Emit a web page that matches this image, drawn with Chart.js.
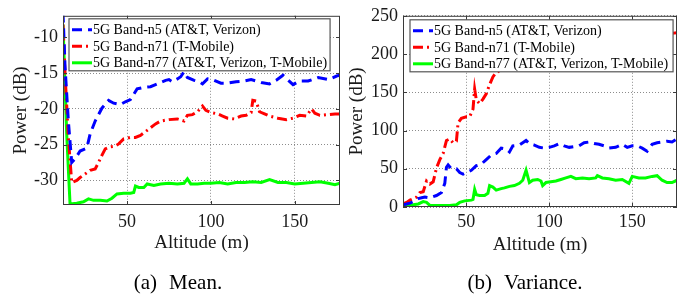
<!DOCTYPE html>
<html>
<head>
<meta charset="utf-8">
<script src="https://cdn.jsdelivr.net/npm/chart.js@4.4.0/dist/chart.umd.min.js"></script>
<style>
    body { margin: 0; background: #fff; width: 691px; height: 296px; overflow: hidden; position: relative; font-family: "Liberation Serif", serif; }
    .panel { position: absolute; top: 0; }
    .caption { position: absolute; top: 272px; font-size: 21px; line-height: 21px; white-space: nowrap; transform: translateX(-50%); color: #000; }
    .caption span { margin-left: 12px; }
</style>
</head>
<body>
<div class="panel" style="left:0"><canvas id="meanChart" width="345" height="296"></canvas></div>
<div class="panel" style="left:345px"><canvas id="varChart" width="346" height="296"></canvas></div>
<div class="caption" style="left:178px">(a)<span>Mean.</span></div>
<div class="caption" style="left:525px">(b)<span>Variance.</span></div>
<script>
// -------------------- DATA --------------------
const bandLabels = [
    "5G Band-n5 (AT&T, Verizon)",
    "5G Band-n71 (T-Mobile)",
    "5G Band-n77 (AT&T, Verizon, T-Mobile)"
];
const altitudeTicks = [50, 100, 150];
const meanTicks = [-30, -25, -20, -15, -10];
const varTicks = [0, 50, 100, 150, 200, 250];

// (a) mean power
const meanN5Alt = [11.8, 13, 15, 17, 19, 22, 26, 28, 31, 35, 39, 42, 46, 49, 52, 56, 60, 64, 67, 70, 73, 75, 77, 80, 82, 84, 86, 90, 93, 95, 98, 102, 106, 110, 115, 120, 124, 130, 135, 139, 143, 149, 153, 158, 164, 170, 175, 177];
const meanN5 = [-6.5, -14, -21.7, -27.5, -27, -25.9, -25.5, -23.5, -21.7, -19.9, -18.8, -19.2, -19.4, -19.0, -18.7, -17.2, -17.0, -16.9, -16.6, -16.3, -16.0, -15.9, -16.2, -15.8, -15.5, -14.8, -15.6, -16.0, -16.2, -16.5, -15.8, -16.0, -16.4, -16.4, -16.2, -16.1, -15.9, -16.3, -16.5, -16.0, -15.3, -16.6, -16.1, -16.1, -15.6, -15.9, -15.4, -15.3];

const meanN71Alt = [11.8, 13, 15, 17, 20, 22, 25, 28, 31, 33, 35, 37, 40, 43, 45, 48, 52, 55, 58, 62, 67, 70, 75, 80, 84, 86, 89, 92, 95, 97, 100, 104, 107, 110, 114, 118, 121, 124, 125, 127, 129, 132, 135, 140, 145, 149, 153, 157, 160, 162, 165, 170, 174, 177];
const meanN71 = [-8.2, -15, -24, -30.3, -30.0, -29.6, -29.1, -28.6, -28.4, -27.5, -26.5, -25.6, -25.3, -25.2, -24.9, -24.2, -24.0, -24.0, -23.7, -23.0, -22.1, -21.7, -21.5, -21.4, -21.7, -20.9, -20.8, -20.4, -19.6, -20.2, -20.5, -20.7, -21.0, -21.3, -21.4, -21.0, -20.9, -20.5, -18.8, -18.9, -20.4, -20.7, -21.0, -21.3, -21.5, -21.3, -20.9, -21.0, -20.0, -20.6, -20.9, -20.8, -20.7, -20.7];

const meanN77Alt = [11.8, 14, 16, 20, 24, 27, 30, 34, 38, 41, 44, 48, 52, 54, 55, 57, 60, 62, 66, 70, 75, 80, 84, 86, 88, 92, 96, 100, 105, 110, 115, 120, 125, 130, 135, 140, 145, 150, 155, 160, 165, 170, 174, 177];
const meanN77 = [-8.2, -23.5, -33.3, -33.2, -33.0, -32.6, -32.8, -32.8, -32.9, -32.5, -31.9, -31.8, -31.8, -31.7, -30.8, -31.0, -31.0, -30.5, -30.7, -30.5, -30.4, -30.5, -30.4, -29.8, -30.5, -30.5, -30.4, -30.4, -30.3, -30.5, -30.3, -30.3, -30.2, -30.3, -29.9, -30.3, -30.3, -30.5, -30.4, -30.3, -30.2, -30.4, -30.6, -30.4];

// (b) variance
const varN5Alt = [11.8, 14, 16, 18, 21, 23, 25, 28, 32, 35, 37, 38, 39, 41, 44, 46, 48, 50, 53, 56, 59, 62, 65, 68, 71, 74, 76, 78, 82, 84, 86, 88, 91, 94, 97, 100, 103, 106, 109, 112, 115, 118, 121, 124, 127, 130, 133, 136, 140, 144, 147, 150, 153, 156, 159, 162, 165, 168, 171, 174, 177];
const varN5 = [3, 4, 5, 7, 11, 12, 13, 12, 15, 19, 31, 52, 55, 50, 50, 45, 43, 45, 48, 54, 56, 62, 68, 70, 77, 76, 72, 80, 81, 84, 87, 83, 81, 78, 77, 78, 80, 83, 80, 78, 79, 80, 84, 85, 83, 82, 80, 77, 78, 82, 78, 80, 80, 77, 73, 82, 84, 85, 86, 85, 89];

const varN71Alt = [11.8, 14, 16, 18, 20, 22, 24, 26, 28, 30, 32, 34, 36, 38, 40, 42, 44, 45, 47, 50, 52, 54, 55, 56, 58, 60, 62, 64, 66, 68, 70, 74, 80, 90, 100, 110, 120, 130, 140, 150, 160, 170, 177];
const varN71 = [4, 6, 9, 11, 13, 19, 20, 34, 30, 33, 51, 62, 70, 87, 89, 84, 86, 110, 116, 118, 118, 128, 154, 140, 135, 141, 148, 160, 170, 176, 178, 192, 205, 212, 216, 220, 223, 225, 224, 226, 228, 226, 228];

const varN77Alt = [11.8, 15, 18, 21, 24, 26, 28, 32, 36, 40, 44, 46, 49, 53, 54, 55, 56, 58, 61, 63, 64, 66, 68, 71, 73, 76, 79, 82, 84, 86, 87, 88, 90, 93, 95, 96, 98, 101, 104, 107, 110, 113, 116, 120, 124, 128, 129, 132, 136, 140, 144, 148, 150, 154, 158, 162, 165, 168, 171, 174, 177];
const varN77 = [2, 2, 3, 4, 7, 6, 2, 2, 2, 2, 3, 6, 8, 9, 10, 23, 16, 15, 15, 18, 28, 26, 22, 24, 25, 27, 28, 31, 35, 48, 40, 32, 35, 36, 34, 28, 32, 33, 34, 36, 38, 40, 37, 38, 37, 38, 41, 38, 37, 35, 36, 31, 40, 38, 38, 40, 41, 35, 32, 32, 35];


// -------------------- STYLE --------------------
const serif = "'Liberation Serif', 'Times New Roman', serif";
const textColor = "#1a1a1a";
const bandStyles = [
    { color: "#0000ff", dash: [10, 6] },
    { color: "#ff0000", dash: [10, 4, 2, 4] },
    { color: "#00ff00", dash: [] }
];

function toPoints(alts, vals) {
    return alts.map((a, i) => ({ x: a, y: vals[i] }));
}

function makeDatasets(seriesList) {
    return seriesList.map((s, i) => ({
        label: bandLabels[i],
        data: toPoints(s[0], s[1]),
        borderColor: bandStyles[i].color,
        borderDash: bandStyles[i].dash,
        borderWidth: 3,
        pointRadius: 0,
        tension: 0,
        clip: 0
    }));
}


// -------------------- PLUGINS --------------------
// MATLAB-like box with inward tick marks
const framePlugin = {
    id: "frame",
    afterDatasetsDraw(chart) {
        const { ctx, chartArea: a, scales } = chart;
        ctx.save();
        ctx.strokeStyle = "#3a3a3a";
        ctx.lineWidth = 1;
        ctx.setLineDash([]);
        ctx.strokeRect(a.left + 0.5, a.top + 0.5, a.right - a.left - 1, a.bottom - a.top - 1);
        ctx.beginPath();
        scales.x.ticks.forEach(t => {
            const px = Math.round(scales.x.getPixelForValue(t.value)) + 0.5;
            ctx.moveTo(px, a.bottom); ctx.lineTo(px, a.bottom - 4);
            ctx.moveTo(px, a.top); ctx.lineTo(px, a.top + 4);
        });
        scales.y.ticks.forEach(t => {
            const py = Math.round(scales.y.getPixelForValue(t.value)) + 0.5;
            ctx.moveTo(a.left, py); ctx.lineTo(a.left + 4, py);
            ctx.moveTo(a.right, py); ctx.lineTo(a.right - 4, py);
        });
        ctx.stroke();
        ctx.restore();
    }
};

// legend box drawn on top of the lines
const boxLegendPlugin = {
    id: "boxLegend",
    afterDraw(chart, args, opts) {
        const { ctx, chartArea: a } = chart;
        const sets = chart.data.datasets;
        ctx.save();
        ctx.font = "14px " + serif;
        const textW = Math.max(...sets.map(d => ctx.measureText(d.label).width));
        const x0 = a.left + opts.dx;
        const y0 = a.top + opts.dy;
        const w = 24 + textW + opts.padRight;
        const h = 52;
        ctx.fillStyle = "#fff";
        ctx.fillRect(x0, y0, w, h);
        ctx.strokeStyle = "#555";
        ctx.lineWidth = 1.2;
        ctx.strokeRect(x0, y0, w, h);
        sets.forEach((d, i) => {
            const y = y0 + 11 + i * 16.5;
            ctx.strokeStyle = d.borderColor;
            ctx.lineWidth = d.borderWidth;
            ctx.setLineDash(d.borderDash || []);
            ctx.beginPath();
            ctx.moveTo(x0 + 3, y);
            ctx.lineTo(x0 + 23, y);
            ctx.stroke();
            ctx.setLineDash([]);
            ctx.fillStyle = "#000";
            ctx.textBaseline = "middle";
            ctx.fillText(d.label, x0 + 24, y + 1);
        });
        ctx.restore();
    }
};


// -------------------- BUILD CHART --------------------
function buildChart(id, datasets, cfg) {
    const el = document.getElementById(id);
    if (!el) return null;

    return new Chart(el, {
        type: "line",
        data: { datasets },
        plugins: [framePlugin, boxLegendPlugin],
        options: {
            responsive: false,
            animation: false,
            layout: { padding: { top: cfg.top, right: cfg.right, bottom: cfg.bottom, left: 0 } },
            plugins: {
                legend: { display: false },
                tooltip: { enabled: false },
                boxLegend: cfg.legend
            },
            scales: {
                x: {
                    type: "linear",
                    min: 11.8,
                    max: 177,
                    afterBuildTicks: s => { s.ticks = altitudeTicks.map(v => ({ value: v })); },
                    afterFit: s => { s.height = 49; },
                    grid: { color: "rgba(0,0,0,0.45)", lineWidth: 1, drawTicks: false },
                    border: { display: false, dash: [1, 2] },
                    ticks: { font: { family: serif, size: 18 }, color: textColor, padding: cfg.xPad, maxRotation: 0 },
                    title: { display: true, text: "Altitude (m)", font: { family: serif, size: 19 }, color: textColor, padding: 0 }
                },
                y: {
                    min: cfg.yMin,
                    max: cfg.yMax,
                    afterBuildTicks: s => { s.ticks = cfg.yTicks.map(v => ({ value: v })); },
                    afterFit: s => { s.width = cfg.yWidth; },
                    grid: { color: "rgba(0,0,0,0.45)", lineWidth: 1, drawTicks: false },
                    border: { display: false, dash: [1, 2] },
                    ticks: { font: { family: serif, size: 18 }, color: textColor, padding: 5 },
                    title: { display: true, text: "Power (dB)", font: { family: serif, size: 19 }, color: textColor, padding: { top: cfg.yTitlePad, bottom: 0 } }
                }
            }
        }
    });
}

buildChart("meanChart", makeDatasets([
    [meanN5Alt, meanN5],
    [meanN71Alt, meanN71],
    [meanN77Alt, meanN77]
]), {
    top: 13, right: 5, bottom: 42,
    yMin: -33.45, yMax: -6.97, yTicks: meanTicks,
    yWidth: 63, yTitlePad: 10, xPad: 6,
    legend: { dx: 6, dy: 3, padRight: 3 }
});

buildChart("varChart", makeDatasets([
    [varN5Alt, varN5],
    [varN71Alt, varN71],
    [varN77Alt, varN77]
]), {
    top: 14, right: 14, bottom: 40,
    yMin: 0, yMax: 250, yTicks: varTicks,
    yWidth: 58, yTitlePad: 1, xPad: 4,
    legend: { dx: 7, dy: 4, padRight: 5 }
});
</script>
</body>
</html>
